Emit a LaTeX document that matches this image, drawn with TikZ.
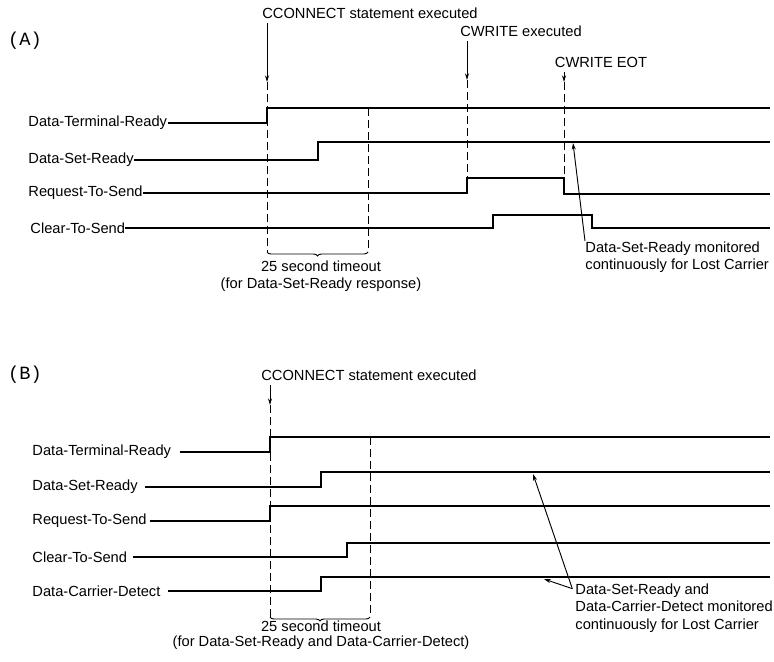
\documentclass[tikz,border=0pt]{standalone}
\usepackage{fontspec}
\setmainfont{Liberation Sans}
\newfontfamily\partfont{Liberation Mono}
\usetikzlibrary{arrows.meta, calc, decorations.pathreplacing}
\tikzset{
  every picture/.style={font=\fontsize{11}{13}\selectfont, line width=0.7pt},
  sig/.style={line width=1.1pt},
  guide/.style={dash pattern=on 6pt off 3pt, line width=0.7pt},
  arrow/.style={-{Stealth[length=5pt, width=3pt]}, line width=0.7pt},
  lbl/.style={anchor=west, inner sep=0pt},
  part/.style={font={\partfont\fontsize{14}{16}\selectfont}, inner sep=0pt},
  timebrace/.style={decorate, decoration={brace, mirror, amplitude=3pt}, line width=0.7pt},
  note/.style={align=left, inner sep=0pt},
}
\begin{document}
\begin{tikzpicture}[x=0.75pt, y=-0.75pt]
  \fill[white] (0,0) rectangle (774,661);
  \useasboundingbox (0,0) rectangle (774,661);
  % (A): DTR raised on CCONNECT, RTS raised for each CWRITE
  \node[part] (partA) at (25,41) {(A)};
  \node (ccA) at (370,13) {CCONNECT statement executed};
  \node (cwA) at (521,31) {CWRITE executed};
  \node (eotA) at (601,62) {CWRITE EOT};
  \node[lbl] (dtrA) at (28,123) {Data-Terminal-Ready};
  \node[lbl] (dsrA) at (28,160) {Data-Set-Ready};
  \node[lbl] (rtsA) at (28,193) {Request-To-Send};
  \node[lbl] (ctsA) at (30,228) {Clear-To-Send};
  \draw[sig] (dtrA.east) -- (267,123) -- (267,108) -- (770,108);
  \draw[sig] (dsrA.east) -- (318,160) -- (318,142) -- (770,142);
  \draw[sig] (rtsA.east) -- (467,193) -- (467,178) -- (564,178) -- (564,194) -- (770,194);
  \draw[sig] (ctsA.east) -- (493,228) -- (493,215) -- (592,215) -- (592,228) -- (770,228);
  \coordinate (cA) at (267,82);
  \coordinate (wA) at (467,80);
  \coordinate (eA) at (564,82);
  \coordinate (bA1) at (267,252);
  \coordinate (bA2) at (368,252);
  \draw[arrow] (ccA.south -| cA) -- (cA);
  \draw[arrow] (cwA.south -| wA) -- (wA);
  \draw[arrow] (eotA.south -| eA) -- (eA);
  \draw[guide] (cA) -- (bA1);
  \draw[guide] (368,108) -- (bA2);
  \draw[guide] (wA) -- (467,178);
  \draw[guide] (eA) -- (564,194);
  \draw[timebrace] (bA1) -- (bA2);
  \node[align=center] (toA) at (321,276) {25 second timeout\\(for Data-Set-Ready response)};
  \node[note, anchor=north west] (monA) at (585,241) {Data-Set-Ready monitored\\continuously for Lost Carrier};
  \coordinate (dA) at (573,143);
  \draw[arrow] (monA.north west) -- (dA);

  % (B): DTR and RTS raised together on CCONNECT
  \node[part] (partB) at (25,375) {(B)};
  \node (ccB) at (369,375) {CCONNECT statement executed};
  \node[lbl] (dtrB) at (32,452) {Data-Terminal-Ready};
  \node[lbl] (dsrB) at (32,487) {Data-Set-Ready};
  \node[lbl] (rtsB) at (32,521) {Request-To-Send};
  \node[lbl] (ctsB) at (32,557) {Clear-To-Send};
  \node[lbl] (dcdB) at (32,591) {Data-Carrier-Detect};
  \draw[sig] ([xshift=6pt]dtrB.east) -- (270,452) -- (270,437) -- (770,437);
  \draw[sig] ([xshift=5pt]dsrB.east) -- (321,487) -- (321,472) -- (770,472);
  \draw[sig] ([xshift=2pt]rtsB.east) -- (270,521) -- (270,506) -- (770,506);
  \draw[sig] ([xshift=4pt]ctsB.east) -- (347,557) -- (347,543) -- (770,543);
  \draw[sig] ([xshift=5pt]dcdB.east) -- (321,591) -- (321,577) -- (770,577);
  \coordinate (cB) at (270,405);
  \coordinate (bB1) at (270,617);
  \coordinate (bB2) at (370,617);
  \draw[arrow] (ccB.south -| cB) -- (cB);
  \draw[guide] (cB) -- (bB1);
  \draw[guide] (370,437) -- (bB2);
  \draw[timebrace] (bB1) -- (bB2);
  \node[align=center] (toB) at (321,635) {25 second timeout\\[-2pt](for Data-Set-Ready and Data-Carrier-Detect)};
  \node[note, anchor=west] (monB) at (575,608) {Data-Set-Ready and\\Data-Carrier-Detect monitored\\continuously for Lost Carrier};
  \coordinate (mB) at ([xshift=-2pt, yshift=-4pt]monB.north west);
  \coordinate (dB) at (533,474);
  \coordinate (kB) at (544,579);
  \draw[arrow] (mB) -- (dB);
  \draw[arrow] (mB) -- (kB);
\end{tikzpicture}
\end{document}
